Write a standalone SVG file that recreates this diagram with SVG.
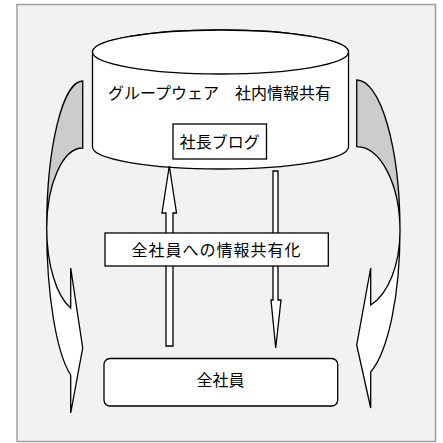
<svg xmlns="http://www.w3.org/2000/svg" width="443" height="443" viewBox="0 0 443 443">
<style>
.ln{stroke:#000;stroke-width:1.3;stroke-linejoin:miter}
.wh{fill:#fff}
.gr{fill:#cccccc}
.t{font-family:"Noto Sans CJK JP","Noto Sans CJK SC",sans-serif;font-size:16px;fill:#000;text-anchor:middle}
</style>
<rect x="0" y="0" width="443" height="443" fill="#fff"/>
<rect id="frame" x="17" y="4.5" width="418.5" height="437" fill="#f2f2f2" stroke="#a0a0a0" stroke-width="1.5"/>
<g id="connectors">
  <g id="curved-left">
    <path class="ln gr" d="M82.7,81 A36,147 0 0 0 46.7,228 A36,80 0 0 1 82.7,148 Z"/>
    <path class="ln wh" d="M46.7,228 A36,155.9 0 0 0 70.7,375 L70.7,413 L82.7,348 L70.7,268 L70.7,308 A36,84.9 0 0 1 46.7,228 Z"/>
  </g>
  <g id="curved-right">
    <path class="ln gr" d="M356.7,80 A43.3,151 0 0 1 400,231 A43.3,84.3 0 0 0 356.7,146.7 Z"/>
    <path class="ln wh" d="M400,231 A43.3,149 0 0 1 370.7,372 L370.7,408 L356.7,345 L370.7,268 L370.7,305 A43.3,78.2 0 0 0 400,231 Z"/>
  </g>
</g>
<g id="groupware">
  <path class="ln wh" d="M92.5,52 L92.5,147 A128,22 0 0 0 348.5,147 L348.5,52 A128,22 0 0 0 92.5,52 Z"/>
  <ellipse class="ln wh" cx="220.5" cy="52" rx="128" ry="22"/>
  <text class="t" x="219.5" y="99">グループウェア　社内情報共有</text>
</g>
<g id="blog">
  <rect class="ln wh" x="173" y="124" width="93.5" height="35"/>
  <text class="t" x="219.7" y="148">社長ブログ</text>
</g>
<g id="connectors-vertical">
  <path class="ln wh" d="M166,346 L166,213 L162,213 L169.3,166 L176.5,213 L173,213 L173,346 Z"/>
  <path class="ln wh" d="M273,171 L278,171 L278,300 L281,300 L275.7,348 L271,300 L273,300 Z"/>
</g>
<g id="sharing">
  <rect class="ln wh" x="105" y="233" width="223.3" height="33"/>
  <text class="t" x="216.5" y="256" letter-spacing="1">全社員への情報共有化</text>
</g>
<g id="all-staff">
  <rect class="ln wh" x="104" y="358.5" width="233.7" height="47.5" rx="6" ry="6"/>
  <text class="t" x="220.5" y="386">全社員</text>
</g>
</svg>
